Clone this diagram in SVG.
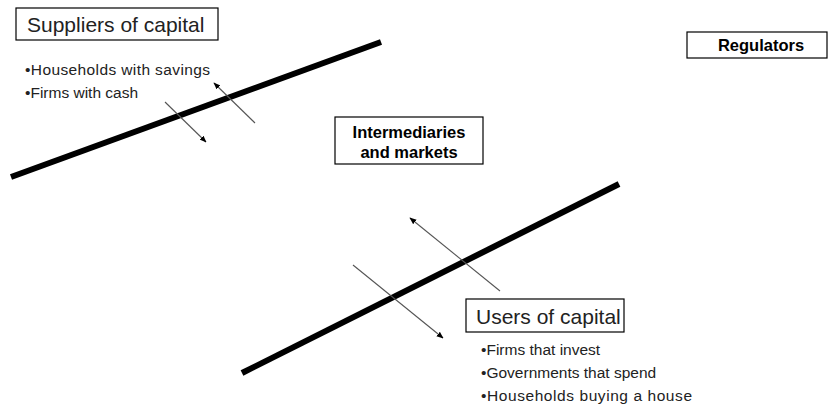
<svg xmlns="http://www.w3.org/2000/svg" width="832" height="405" viewBox="0 0 832 405">
<style>
.box{fill:#fff;stroke:#000;stroke-width:1.2}
.big{font-family:"Liberation Sans",Arial,sans-serif;font-size:21px;fill:#222}
.bul{font-family:"Liberation Sans",Arial,sans-serif;font-size:15.5px;fill:#222}
.bold{font-family:"Liberation Sans",Arial,sans-serif;font-size:16.5px;font-weight:bold;fill:#000;text-anchor:middle}
.thick{stroke:#000;stroke-width:6;fill:none}
.arr{stroke:#555;stroke-width:1.1;fill:none;marker-end:url(#ah)}
</style>
<defs>
<marker id="ah" viewBox="0 0 10 10" refX="9" refY="5" markerWidth="7" markerHeight="7" orient="auto" markerUnits="userSpaceOnUse">
<path d="M0,1 L10,5 L0,9 z" fill="#000"/>
</marker>
</defs>
<g id="connectors">
<line class="thick" x1="11" y1="177" x2="381" y2="42"/>
<line class="thick" x1="242" y1="373" x2="619" y2="184"/>
<line class="arr" x1="165" y1="102" x2="206" y2="142"/>
<line class="arr" x1="255" y1="123" x2="214" y2="83"/>
<line class="arr" x1="353" y1="265" x2="443" y2="338"/>
<line class="arr" x1="500" y1="291" x2="410" y2="218"/>
</g>
<g id="suppliers">
<rect class="box" x="16" y="8" width="202" height="32"/>
<text class="big" x="27" y="32">Suppliers of capital</text>
<text class="bul" x="25" y="75" textLength="185">•Households with savings</text>
<text class="bul" x="25" y="98">•Firms with cash</text>
</g>
<g id="intermediaries">
<rect class="box" x="335" y="117" width="148" height="47"/>
<text class="bold" x="409" y="138">Intermediaries</text>
<text class="bold" x="409" y="158">and markets</text>
</g>
<g id="regulators">
<rect class="box" x="687" y="32" width="140" height="26"/>
<text class="bold" x="761" y="51">Regulators</text>
</g>
<g id="users">
<rect class="box" x="466" y="299" width="158" height="33"/>
<text class="big" x="476" y="324">Users of capital</text>
<text class="bul" x="481" y="355">•Firms that invest</text>
<text class="bul" x="481" y="378">•Governments that spend</text>
<text class="bul" x="481" y="401" textLength="211">•Households buying a house</text>
</g>
</svg>
